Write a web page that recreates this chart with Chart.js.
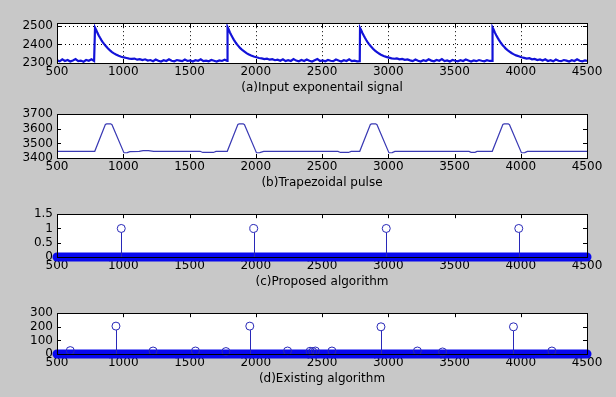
<!DOCTYPE html>
<html><head><meta charset="utf-8">
<script src="https://cdn.jsdelivr.net/npm/chart.js@4/dist/chart.umd.min.js"></script>
<style>
html,body{margin:0;padding:0;background:#c8c8c8;width:616px;height:397px;overflow:hidden;}
.p{position:absolute;left:0;width:616px;}
canvas{display:block;}
</style></head><body>
<div class="p" id="wa"><canvas id="ca"></canvas></div>
<div class="p" id="wb"><canvas id="cb"></canvas></div>
<div class="p" id="wc"><canvas id="cc"></canvas></div>
<div class="p" id="wd"><canvas id="cd"></canvas></div>
<script>
// ---------- data ----------
const xTicks = [500,1000,1500,2000,2500,3000,3500,4000,4500];
const yTicksA = [2300,2400,2500];
const yTicksB = [3400,3500,3600,3700];
const yTicksC = [0,0.5,1,1.5];
const yTicksD = [0,100,200,300];
const titles = ['(a)Input exponentail signal','(b)Trapezoidal pulse','(c)Proposed algorithm','(d)Existing algorithm'];

// (a) input exponential signal
const sigX = [
 500,520,540,560,580,600,620,640,660,680,700,720,740,760,780,
 785,787,795,805,815,825,835,845,855,865,875,885,900,915,930,945,965,985,1005,1025,1045,1065,1085,1105,1125,1145,
 1165,1185,1205,1225,1245,1265,1285,1305,1325,1345,1365,1385,1405,1425,1445,1465,1485,1505,1525,1545,1565,1585,1605,1625,1645,1665,1685,1705,1725,1745,1765,
 1785,1787,1795,1805,1815,1825,1835,1845,1855,1865,1875,1885,1900,1915,1930,1945,1965,1985,2005,2025,2045,2065,2085,2105,2125,2145,
 2165,2185,2205,2225,2245,2265,2285,2305,2325,2345,2365,2385,2405,2425,2445,2465,2485,2505,2525,2545,2565,2585,2605,2625,2645,2665,2685,2705,2725,2745,2765,
 2785,2787,2795,2805,2815,2825,2835,2845,2855,2865,2875,2885,2900,2915,2930,2945,2965,2985,3005,3025,3045,3065,3085,3105,3125,3145,
 3165,3185,3205,3225,3245,3265,3285,3305,3325,3345,3365,3385,3405,3425,3445,3465,3485,3505,3525,3545,3565,3585,3605,3625,3645,3665,3685,3705,3725,3745,3765,
 3785,3787,3795,3805,3815,3825,3835,3845,3855,3865,3875,3885,3900,3915,3930,3945,3965,3985,4005,4025,4045,4065,4085,4105,4125,4145,
 4165,4185,4205,4225,4245,4265,4285,4305,4325,4345,4365,4385,4405,4425,4445,4465,4485,4500];
const sigY = [
 2315,2309,2320,2311,2316,2308,2314,2321,2310,2313,2307,2316,2312,2320,2311,
 2311,2491,2480,2463,2449,2436,2424,2413,2403,2394,2386,2378,2368,2359,2352,2346,2339,2334,2330,2327,2324,2322,2324,2318,2321,2316,
 2320,2313,2316,2310,2319,2312,2308,2315,2311,2320,2312,2309,2316,2313,2310,2319,2311,2314,2308,2315,2312,2320,2310,2313,2309,2316,2312,2308,2314,2311,2318,
 2312,2494,2482,2465,2451,2438,2425,2414,2404,2395,2387,2379,2369,2361,2353,2347,2340,2335,2331,2327,2325,2321,2323,2318,2321,2315,
 2318,2312,2320,2310,2315,2311,2321,2313,2309,2316,2311,2319,2312,2308,2315,2322,2311,2314,2309,2316,2312,2310,2319,2313,2308,2315,2311,2320,2310,2313,2309,
 2310,2490,2479,2462,2448,2435,2423,2412,2402,2393,2385,2377,2367,2359,2351,2345,2338,2333,2329,2325,2323,2325,2320,2322,2317,2319,
 2314,2310,2319,2312,2308,2315,2311,2320,2313,2309,2316,2312,2321,2310,2314,2308,2316,2312,2309,2315,2311,2319,2313,2308,2314,2310,2316,2312,2309,2315,2311,
 2311,2492,2481,2464,2450,2437,2425,2414,2404,2395,2388,2379,2370,2362,2354,2348,2341,2336,2331,2328,2324,2326,2320,2322,2316,2319,
 2313,2320,2311,2315,2309,2319,2312,2310,2316,2313,2308,2315,2311,2320,2312,2309,2314,2311];

// (b) trapezoidal pulse
const trapX = [500,785,865,875,905,915,1005,1030,1050,1120,1150,1190,1230,1580,1600,1680,1700,
 1785,1865,1875,1905,1915,2005,2030,2060,2620,2640,2700,2720,
 2785,2865,2875,2905,2915,3005,3030,3050,3610,3625,3655,3670,
 3785,3865,3875,3905,3915,4005,4030,4050,4500];
const trapY = [3446,3446,3630,3634,3634,3628,3436,3437,3444,3446,3451,3451,3446,3446,3438,3438,3445,
 3446,3630,3634,3634,3628,3436,3437,3445,3445,3438,3438,3445,
 3446,3630,3634,3634,3628,3436,3437,3445,3445,3439,3439,3445,
 3446,3630,3634,3634,3628,3436,3437,3445,3445];

// (c) proposed algorithm (stem)
const propX = [985,1985,2985,3985];
const propY = [1,1,1,1];

// (d) existing algorithm (stem)
const existX = [600,945,1225,1545,1775,1955,2240,2410,2430,2450,2575,2945,3220,3410,3945,4235];
const existY = [25,205,22,22,18,205,22,20,18,22,22,200,22,15,200,22];

// zero samples band
const zeroSpan = [500,4500];

// ---------- helpers ----------
const FONT = {family:'DejaVu Sans', size:12};
const pts = (xs, ys) => xs.map((x,i)=>({x:x, y:ys[i]}));

const matlabPlugin = {
  id:'matlab',
  beforeDraw(chart){
    const {ctx, chartArea:a} = chart;
    ctx.save(); ctx.fillStyle='#ffffff';
    ctx.fillRect(a.left, a.top, a.right-a.left, a.bottom-a.top);
    ctx.restore();
  },
  beforeDatasetsDraw(chart){
    const {ctx, chartArea:a, scales:{x,y}} = chart;
    const o = chart.options.plugins.matlab;
    ctx.save();
    ctx.strokeStyle='#000'; ctx.lineWidth=1;
    if (o.grid){
      ctx.setLineDash([1,3]);
      o.xt.forEach(v=>{ const px=Math.round(x.getPixelForValue(v))+0.5;
        if (px>a.left+1 && px<a.right-1){ctx.beginPath();ctx.moveTo(px,a.top);ctx.lineTo(px,a.bottom);ctx.stroke();}});
      o.yt.forEach(v=>{ const py=Math.round(y.getPixelForValue(v))+0.5;
        if (py>a.top+1 && py<a.bottom-1){ctx.beginPath();ctx.moveTo(a.left,py);ctx.lineTo(a.right,py);ctx.stroke();}});
      ctx.setLineDash([]);
    }
    const tl=4;
    o.xt.forEach(v=>{ const px=Math.round(x.getPixelForValue(v))+0.5;
      ctx.beginPath();ctx.moveTo(px,a.top);ctx.lineTo(px,a.top+tl);ctx.moveTo(px,a.bottom);ctx.lineTo(px,a.bottom-tl);ctx.stroke();});
    o.yt.forEach(v=>{ const py=Math.round(y.getPixelForValue(v))+0.5;
      ctx.beginPath();ctx.moveTo(a.left,py);ctx.lineTo(a.left+tl,py);ctx.moveTo(a.right,py);ctx.lineTo(a.right-tl,py);ctx.stroke();});
    ctx.restore();
  },
  beforeDatasetDraw(chart, args){
    const ds = chart.data.datasets[args.index];
    if (!ds.stem) return;
    const {ctx, scales:{x,y}} = chart;
    const y0 = y.getPixelForValue(0);
    ctx.save(); ctx.strokeStyle=ds.borderColor; ctx.lineWidth=1;
    ds.data.forEach(p=>{ const px=Math.round(x.getPixelForValue(p.x))+0.5; const py=y.getPixelForValue(p.y)+ds.pointRadius;
      if (py<y0){ctx.beginPath();ctx.moveTo(px,y0);ctx.lineTo(px,py);ctx.stroke();}});
    ctx.restore();
  },
  afterDraw(chart){
    const {ctx, chartArea:a} = chart;
    ctx.save(); ctx.strokeStyle='#000'; ctx.lineWidth=1;
    ctx.strokeRect(Math.round(a.left)+0.5, Math.round(a.top)+0.5, Math.round(a.right-a.left), Math.round(a.bottom-a.top));
    ctx.restore();
  }
};

function panel(wrapId, canvasId, top, h, ymin, ymax, yt, title, datasets, grid){
  const padTop = 10, axisH = 34;
  const W = document.getElementById(wrapId);
  W.style.top = (top - padTop) + 'px';
  const c = document.getElementById(canvasId);
  c.width = 616; c.height = padTop + h + axisH;
  c.style.width='616px'; c.style.height=c.height+'px';
  return new Chart(c, {
    type:'scatter',
    data:{datasets},
    options:{
      responsive:false, animation:false, devicePixelRatio:1,
      layout:{padding:{top:padTop,left:0,right:29,bottom:0}},
      plugins:{legend:{display:false}, tooltip:{enabled:false}, matlab:{grid, xt:xTicks, yt}},
      scales:{
        x:{type:'linear', min:500, max:4500, offset:false,
           afterBuildTicks:s=>{s.ticks=xTicks.map(v=>({value:v}));},
           afterFit:s=>{s.height=axisH;},
           grid:{display:false, drawTicks:false}, border:{display:false},
           ticks:{color:'#000', font:FONT, padding:2, maxRotation:0, autoSkip:false, callback:v=>String(v)},
           title:{display:true, text:title, color:'#000', font:FONT, padding:{top:0,bottom:2}}},
        y:{type:'linear', min:ymin, max:ymax,
           afterBuildTicks:s=>{s.ticks=yt.map(v=>({value:v}));},
           afterFit:s=>{s.width=57;},
           grid:{display:false, drawTicks:false}, border:{display:false},
           ticks:{color:'#000', font:FONT, padding:4, autoSkip:false, callback:v=>String(v)}}
      }
    },
    plugins:[matlabPlugin]
  });
}

const BLUE='#1212d8', BAND='#0808ee', STEM='#2828b8';
function stemSets(xs, ys){
  return [
    {data:pts(xs,ys), stem:true, showLine:false, pointStyle:'circle', pointRadius:4, pointBorderWidth:1,
     borderColor:STEM, pointBorderColor:STEM, backgroundColor:'rgba(0,0,0,0)', pointBackgroundColor:'rgba(0,0,0,0)', order:1, clip:false},
    {data:pts(zeroSpan,[0,0]), showLine:true, borderColor:BAND, borderWidth:9, borderCapStyle:'round', pointRadius:0, order:3, clip:false},
  ];
}

panel('wa','ca',22,41,2300,2515,yTicksA,titles[0],[
  {data:pts(sigX,sigY), showLine:true, borderColor:BLUE, borderWidth:2.2, pointRadius:0, tension:0}
], true);
panel('wb','cb',113,45,3400,3700,yTicksB,titles[1],[
  {data:pts(trapX,trapY), showLine:true, borderColor:'#3a3ab4', borderWidth:1.2, pointRadius:0, tension:0}
], false);
panel('wc','cc',213,44,0,1.5,yTicksC,titles[2],stemSets(propX,propY),false);
panel('wd','cd',312,42,0,300,yTicksD,titles[3],stemSets(existX,existY),false);
</script>
</body></html>
